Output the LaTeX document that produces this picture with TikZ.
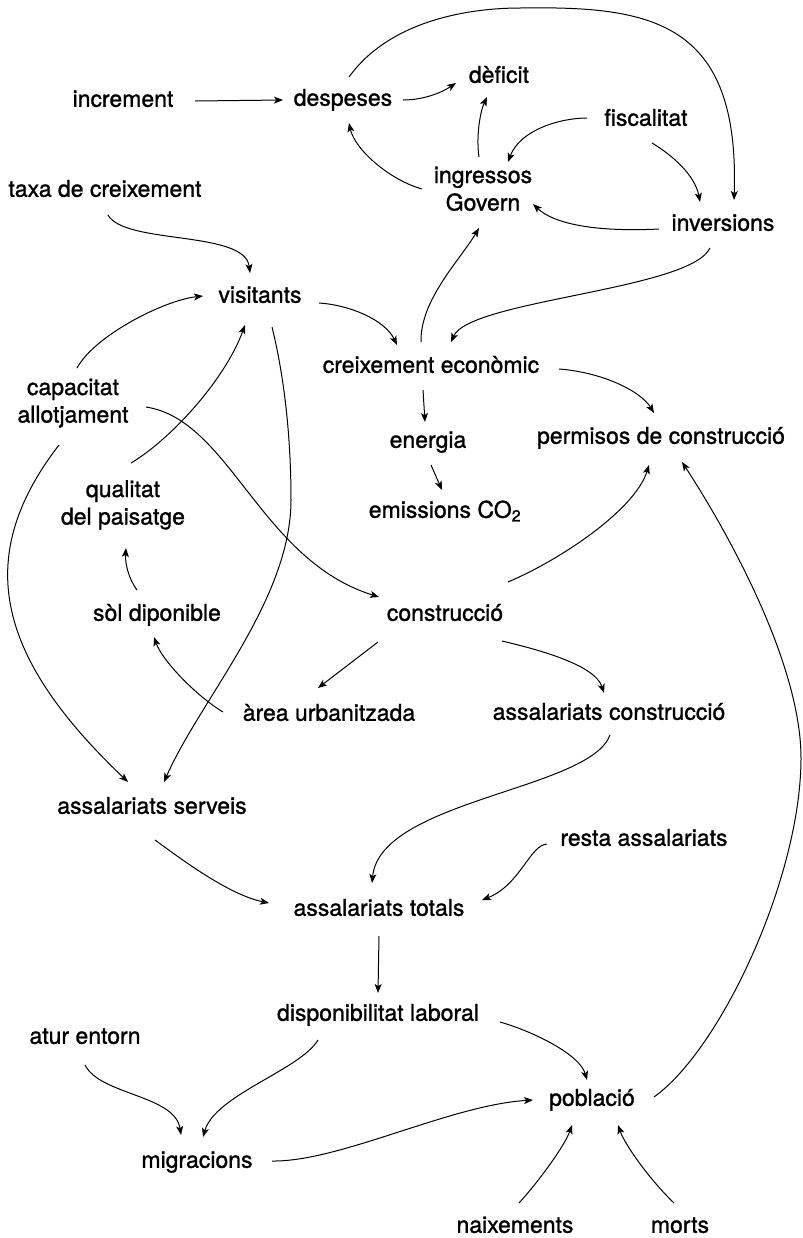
\documentclass[tikz,border=0pt]{standalone}
\usepackage{fontspec}
\setmainfont{TeX Gyre Heros}[FakeBold=1.2]
\usetikzlibrary{calc,arrows.meta}
\begin{document}
\begin{tikzpicture}[x=1bp,y=-1bp,
  lbl/.style={font=\fontsize{23bp}{27.5bp}\selectfont, inner sep=0pt, text height=16bp, text depth=4.5bp, align=center},
  two/.style={text height=43.5bp, text depth=4.5bp},
  conn/.style={line width=1bp, -{Stealth[length=9bp,width=7bp,inset=2.2bp]}}]
\useasboundingbox (0,0) rectangle (803,1238);
% nodes
\node[lbl] (increment) at (123,101) {increment};
\node[lbl] (despeses) at (343,100) {despeses};
\node[lbl] (deficit) at (499,77) {dèficit};
\node[lbl] (fiscalitat) at (646,120) {fiscalitat};
\node[lbl,two] (ingressos) at (483,191) {ingressos\\Govern};
\node[lbl] (taxa) at (105,191) {taxa de creixement};
\node[lbl] (inversions) at (723,225) {inversions};
\node[lbl] (visitants) at (260,297) {visitants};
\node[lbl] (creixement) at (431,367) {creixement econòmic};
\node[lbl,two] (capacitat) at (73,403) {capacitat\\allotjament};
\node[lbl] (energia) at (428,442) {energia};
\node[lbl] (permisos) at (661,438) {permisos de construcció};
\node[lbl,two] (qualitat) at (123,505) {qualitat\\del paisatge};
\node[lbl] (emissions) at (445,512) {emissions CO\textsubscript{2}};
\node[lbl] (sol) at (157,615) {sòl diponible};
\node[lbl] (construccio) at (445,615) {construcció};
\node[lbl] (area) at (329,715) {àrea urbanitzada};
\node[lbl] (aconstr) at (609,714) {assalariats construcció};
\node[lbl] (serveis) at (152,808) {assalariats serveis};
\node[lbl] (resta) at (644,840) {resta assalariats};
\node[lbl] (totals) at (379,910) {assalariats totals};
\node[lbl] (disponibilitat) at (378,1015) {disponibilitat laboral};
\node[lbl] (atur) at (85,1038) {atur entorn};
\node[lbl] (poblacio) at (592,1100) {població};
\node[lbl] (migracions) at (197,1162) {migracions};
\node[lbl] (naixements) at (515,1227) {naixements};
\node[lbl] (morts) at (680,1227) {morts};
% connectors
\draw[conn] ($(increment)+(72,0)$) -- ($(despeses)+(-60,0)$);
\draw[conn] ($(despeses)+(60,0)$) .. controls (423,100) and (441,93) .. ($(deficit)+(-43,6)$);
\draw[conn] ($(despeses)+(6,-23)$) .. controls (390,20) and (470,8) .. (520,8)
   .. controls (650,6) and (740,20) .. ($(inversions)+(11,-25)$);
\draw[conn] ($(ingressos)+(-4,-34)$) .. controls (476,137) and (480,112) .. ($(deficit)+(-12,20)$);
\draw[conn] ($(ingressos)+(-61,-2)$) .. controls (390,180) and (355,150) .. ($(despeses)+(6,23)$);
\draw[conn] ($(fiscalitat)+(-59,-2)$) .. controls (560,118) and (520,130) .. ($(ingressos)+(25,-29)$);
\draw[conn] ($(fiscalitat)+(6,23)$) .. controls (672,155) and (695,175) .. ($(inversions)+(-23,-23)$);
\draw[conn] ($(inversions)+(-64,4)$) .. controls (600,232) and (555,225) .. ($(ingressos)+(50,13)$);
\draw[conn] ($(taxa)+(3,24)$) .. controls (125,245) and (245,230) .. ($(visitants)+(-10,-24)$);
\draw[conn] ($(capacitat)+(4,-35)$) .. controls (95,335) and (165,300) .. ($(visitants)+(-57,-1)$);
\draw[conn] ($(visitants)+(59,6)$) .. controls (350,305) and (385,320) .. ($(creixement)+(-34,-22)$);
\draw[conn] ($(creixement)+(-10,-25)$) .. controls (420,300) and (460,260) .. ($(ingressos)+(-4,37)$);
\draw[conn] ($(inversions)+(-13,23)$) .. controls (690,290) and (470,300) .. ($(creixement)+(20,-25)$);
\draw[conn] ($(creixement)+(128,2)$) .. controls (600,372) and (640,390) .. ($(permisos)+(-7,-25)$);
\draw[conn] ($(creixement)+(-8,23)$) -- ($(energia)+(-3,-20)$);
\draw[conn] ($(energia)+(3,23)$) -- ($(emissions)+(-3,-22)$);
\draw[conn] ($(capacitat)+(73,4)$) .. controls (230,420) and (260,560) .. ($(construccio)+(-66,-18)$);
\draw[conn] ($(capacitat)+(-14,42)$) .. controls (-30,560) and (0,660) .. ($(serveis)+(-24,-26)$);
\draw[conn] ($(visitants)+(12,30)$) .. controls (285,380) and (291,440) .. (291,500)
   .. controls (291,600) and (200,700) .. ($(serveis)+(12,-26)$);
\draw[conn] ($(qualitat)+(8,-42)$) .. controls (170,440) and (225,380) .. ($(visitants)+(-15,28)$);
\draw[conn] ($(sol)+(-20,-25)$) .. controls (128,578) and (125,562) .. ($(qualitat)+(3,43)$);
\draw[conn] ($(area)+(-106,-3)$) .. controls (195,695) and (162,660) .. ($(sol)+(-3,22)$);
\draw[conn] ($(construccio)+(-67,27)$) -- ($(area)+(-11,-27)$);
\draw[conn] ($(construccio)+(57,26)$) .. controls (540,650) and (595,665) .. ($(aconstr)+(-5,-21)$);
\draw[conn] ($(construccio)+(63,-33)$) .. controls (560,560) and (635,510) .. ($(permisos)+(-12,27)$);
\draw[conn] ($(poblacio)+(62,-3)$) .. controls (720,1050) and (800,880) .. (801,760)
   .. controls (802,660) and (720,520) .. ($(permisos)+(21,24)$);
\draw[conn] ($(aconstr)+(1,21)$) .. controls (590,790) and (380,800) .. ($(totals)+(-7,-27)$);
\draw[conn] ($(resta)+(-97,4)$) .. controls (530,845) and (520,885) .. ($(totals)+(103,-10)$);
\draw[conn] ($(serveis)+(3,32)$) .. controls (185,862) and (230,895) .. ($(totals)+(-110,-7)$);
\draw[conn] ($(totals)+(0,26)$) -- ($(disponibilitat)+(0,-22)$);
\draw[conn] ($(disponibilitat)+(122,7)$) .. controls (535,1032) and (580,1055) .. ($(poblacio)+(-5,-20)$);
\draw[conn] ($(disponibilitat)+(-60,25)$) .. controls (300,1070) and (215,1095) .. ($(migracions)+(6,-25)$);
\draw[conn] ($(atur)+(0,27)$) .. controls (100,1095) and (175,1095) .. ($(migracions)+(-16,-27)$);
\draw[conn] ($(migracions)+(75,-1)$) .. controls (340,1162) and (450,1105) .. ($(poblacio)+(-59,0)$);
\draw[conn] ($(naixements)+(4,-24)$) .. controls (540,1180) and (565,1145) .. ($(poblacio)+(-20,25)$);
\draw[conn] ($(morts)+(-6,-24)$) .. controls (650,1180) and (625,1145) .. ($(poblacio)+(26,25)$);
\end{tikzpicture}
\end{document}
